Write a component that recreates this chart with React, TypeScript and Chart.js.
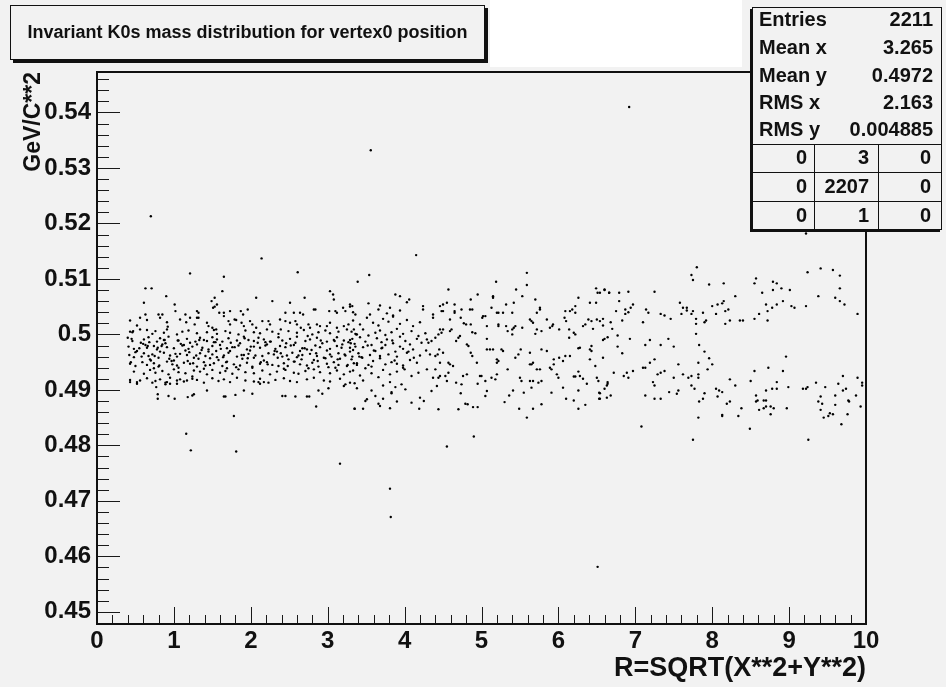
import React, { useEffect, useRef } from "react";
import { Chart, registerables } from "chart.js";

Chart.register(...registerables);

// ---------- axis / text data ----------
const X_MIN = 0;
const X_MAX = 10;
const Y_MIN = 0.4478;
const Y_MAX = 0.5473;
const X_TICKS = [0, 1, 2, 3, 4, 5, 6, 7, 8, 9, 10];
const Y_TICKS = [0.45, 0.46, 0.47, 0.48, 0.49, 0.5, 0.51, 0.52, 0.53, 0.54];
const TITLE = "Invariant K0s mass distribution for vertex0 position";
const X_TITLE = "R=SQRT(X**2+Y**2)";
const Y_TITLE = "GeV/C**2";
const STAT_LABELS = ["Entries", "Mean x", "Mean y", "RMS x", "RMS y"];
const STAT_VALUES = ["2211", "3.265", "0.4972", "2.163", "0.004885"];
const OVERFLOW_ROW1 = ["0", "3", "0"];
const OVERFLOW_ROW2 = ["0", "2207", "0"];
const OVERFLOW_ROW3 = ["0", "1", "0"];

// ---------- points: [R, mass] ----------
const outliers = [
  [6.92, .5410], [3.56, .5332], [0.70, .5213], [9.22, .5182],
  [1.16, .4821], [1.22, .4791], [1.81, .4789], [3.16, .4767], [3.81, .4722], [3.82, .4671],
  [4.90, .4816], [4.55, .4798], [6.51, .4581], [7.75, .4810], [9.25, .4810],
];

const innerUpper = [
  [2.14, .5137], [1.21, .5110], [1.65, .5104], [2.61, .5112], [.63, .5083], [.71, .5083], [1.63, .5078], [.90, .5069],
  [2.07, .5066], [2.70, .5066], [3.03, .5078], [3.07, .5072], [3.08, .5063], [.61, .5057], [1.53, .5066], [1.49, .5060],
  [1.56, .5054], [2.28, .5060], [2.51, .5057], [1.01, .5054], [1.02, .5042], [1.15, .5036], [1.30, .5042], [1.32, .5039],
  [1.30, .5030], [1.51, .5048], [1.53, .5050], [1.59, .5039], [1.65, .5039], [1.73, .5042], [1.87, .5042], [1.90, .5036],
  [1.96, .5045], [2.45, .5039], [2.56, .5039], [2.64, .5039], [2.68, .5036], [2.82, .5045], [2.84, .5045], [3.02, .5042],
  [3.10, .5042], [3.12, .5039], [3.20, .5048], [3.23, .5042], [3.29, .5054], [3.32, .5051], [3.36, .5036],
  [.43, .5025], [.56, .5030], [.63, .5036], [.65, .5026], [.52, .5016], [.56, .5009], [.47, .5006], [.43, .5005],
  [.80, .5036], [.82, .5030], [.85, .5036], [.91, .5022], [.92, .5014], [1.08, .5027], [1.16, .5022], [1.21, .5030],
  [1.32, .5030], [1.27, .5018], [1.43, .5021], [1.45, .5015], [1.50, .5012], [1.55, .5009], [1.65, .5033], [1.71, .5024],
  [1.73, .5018], [1.79, .5027], [1.81, .5026], [1.88, .5021], [1.91, .5015], [1.99, .5024], [2.02, .5018], [2.07, .5012],
  [2.15, .5024], [2.23, .5024], [2.25, .5018], [2.38, .5027], [2.39, .5009], [2.45, .5024], [2.51, .5021], [2.58, .5024],
  [2.60, .5018], [2.65, .5012], [2.75, .5018], [2.77, .5012], [2.86, .5018], [2.90, .5015], [2.99, .5015], [3.03, .5021],
  [3.12, .5012], [3.21, .5015], [3.27, .5018], [3.34, .5009], [3.37, .5000],
];

const innerCoreA = [
  [.46, .5004], [.65, .5008], [.72, .5001], [.76, .5006], [.87, .5003], [.91, .5009], [1.04, .5000], [1.11, .5005],
  [1.19, .5007], [1.30, .5002], [1.43, .5004], [1.52, .5008], [1.56, .5001], [1.67, .5006], [1.73, .5003], [1.84, .5000],
  [1.93, .5007], [2.04, .5004], [2.12, .5002], [2.21, .5009], [2.28, .5005], [2.36, .5001], [2.49, .5006], [2.60, .5003],
  [2.69, .5008], [2.80, .5000], [2.88, .5004], [2.97, .5007], [3.03, .5002], [3.14, .5005], [3.25, .5009], [3.36, .5001],
  [.40, .4994], [.46, .4988], [.61, .4991], [.67, .4995], [.78, .4987], [.82, .4993], [.87, .4990], [.93, .4996],
  [1.06, .4989], [1.17, .4992], [1.28, .4987], [1.34, .4994], [1.39, .4990], [1.43, .4988], [1.50, .4995], [1.56, .4991],
  [1.63, .4987], [1.71, .4993], [1.82, .4989], [1.91, .4996], [1.97, .4990], [2.04, .4988], [2.10, .4994], [2.17, .4991],
  [2.25, .4987], [2.36, .4995], [2.41, .4989], [2.51, .4992], [2.60, .4996], [2.71, .4988], [2.77, .4991], [2.86, .4994],
  [2.99, .4987], [3.08, .4990], [3.12, .4995], [3.21, .4989], [3.32, .4992],
];

const innerCoreB = [
  [.41, .4978], [.48, .4974], [.63, .4981], [.65, .4976], [.74, .4979], [.78, .4973], [.85, .4982], [.91, .4977],
  [1.00, .4975], [1.11, .4980], [1.19, .4974], [1.24, .4978], [1.30, .4982], [1.37, .4976], [1.45, .4973], [1.50, .4979],
  [1.60, .4981], [1.69, .4975], [1.76, .4977], [1.84, .4980], [1.95, .4973], [2.04, .4978], [2.12, .4976], [2.21, .4982],
  [2.32, .4974], [2.38, .4979], [2.45, .4977], [2.56, .4981], [2.67, .4975], [2.73, .4973], [2.84, .4980], [2.90, .4977],
  [3.03, .4974], [3.12, .4979], [3.19, .4982], [3.29, .4976], [3.36, .4978],
  [.42, .4963], [.48, .4959], [.61, .4966], [.67, .4961], [.72, .4964], [.80, .4958], [.87, .4967], [.95, .4962],
  [1.04, .4960], [1.08, .4965], [1.17, .4963], [1.26, .4958], [1.34, .4966], [1.41, .4961], [1.50, .4964], [1.56, .4959],
  [1.65, .4962], [1.71, .4967], [1.82, .4960], [1.91, .4963], [1.97, .4965], [2.04, .4958], [2.15, .4961], [2.23, .4966],
  [2.30, .4964], [2.41, .4960], [2.47, .4962], [2.54, .4967], [2.60, .4959], [2.67, .4963], [2.77, .4965], [2.86, .4961],
  [2.95, .4958], [3.03, .4964], [3.14, .4966], [3.23, .4962], [3.32, .4960],
  [.52, .4970], [.69, .4955], [.82, .4969], [1.00, .4953], [1.15, .4971], [1.32, .4956], [1.45, .4969], [1.58, .4954],
  [1.73, .4970], [1.89, .4956], [1.99, .4971], [2.17, .4953], [2.34, .4969], [2.49, .4955], [2.64, .4970], [2.82, .4954],
  [2.99, .4971], [3.16, .4956], [3.29, .4969],
  [.57, .4985], [.74, .4939], [.89, .4984], [1.06, .4940], [1.21, .4985], [1.39, .4938], [1.54, .4986], [1.69, .4939],
  [1.86, .4984], [2.02, .4940], [2.19, .4986], [2.43, .4938], [2.58, .4985], [2.75, .4939], [2.93, .4984], [3.10, .4940],
  [3.27, .4986],
];

const innerCoreC = [
  [.43, .4947], [.50, .4943], [.59, .4950], [.65, .4945], [.74, .4948], [.80, .4942], [.91, .4951], [.98, .4946],
  [1.04, .4944], [1.13, .4949], [1.21, .4947], [1.30, .4942], [1.39, .4950], [1.47, .4945], [1.52, .4948], [1.63, .4943],
  [1.69, .4951], [1.78, .4946], [1.86, .4944], [1.95, .4949], [2.02, .4942], [2.12, .4947], [2.21, .4950], [2.28, .4945],
  [2.36, .4943], [2.43, .4948], [2.56, .4951], [2.64, .4946], [2.73, .4944], [2.80, .4949], [2.88, .4942], [2.99, .4947],
  [3.08, .4950], [3.14, .4945], [3.25, .4943], [3.34, .4948],
  [.48, .4933], [.61, .4929], [.69, .4936], [.76, .4931], [.85, .4934], [.93, .4928], [1.00, .4937], [1.06, .4932],
  [1.15, .4930], [1.26, .4935], [1.34, .4933], [1.43, .4928], [1.50, .4936], [1.60, .4931], [1.67, .4934], [1.76, .4929],
  [1.84, .4937], [1.93, .4932], [2.04, .4930], [2.15, .4935], [2.25, .4928], [2.34, .4933], [2.45, .4936], [2.56, .4931],
  [2.62, .4929], [2.71, .4934], [2.82, .4937], [2.90, .4932], [3.03, .4930], [3.12, .4935], [3.21, .4928], [3.29, .4933],
  [.43, .4918], [.52, .4914], [.65, .4921], [.76, .4916], [.82, .4919], [.89, .4913], [.95, .4922], [1.04, .4917],
  [1.13, .4915], [1.24, .4920], [1.30, .4918], [1.39, .4913], [1.50, .4921], [1.58, .4916], [1.65, .4919], [1.73, .4914],
  [1.82, .4922], [1.93, .4917], [2.04, .4915], [2.12, .4920], [2.23, .4913], [2.32, .4918], [2.43, .4921], [2.51, .4916],
  [2.60, .4914], [2.73, .4919], [2.82, .4922], [2.95, .4917], [3.03, .4915], [3.16, .4920], [3.29, .4913],
];

const innerCoreD = [
  [.45, .4992], [.55, .4975], [.68, .4986], [.75, .4961], [.84, .4979], [.97, .4952], [1.09, .4983], [1.20, .4968],
  [1.33, .4990], [1.47, .4957], [1.61, .4974], [1.74, .4985], [1.88, .4963], [2.00, .4978], [2.13, .4950], [2.26, .4987],
  [2.39, .4966], [2.52, .4980], [2.66, .4955], [2.79, .4972], [2.91, .4989], [3.05, .4960], [3.18, .4976], [3.30, .4984],
  [3.45, .4958], [3.60, .4971], [3.75, .4981], [3.90, .4947], [4.05, .4969],
  [.50, .4968], [.60, .4983], [.70, .4953], [.79, .4976], [.88, .4990], [1.02, .4965], [1.13, .4981], [1.25, .4948],
  [1.36, .4972], [1.52, .4986], [1.64, .4959], [1.79, .4977], [1.92, .4993], [2.06, .4962], [2.19, .4980], [2.31, .4970],
  [2.46, .4984], [2.57, .4951], [2.70, .4975], [2.85, .4966], [2.97, .4957], [3.09, .4988], [3.22, .4964], [3.38, .4945],
  [3.52, .4980], [3.68, .4961], [3.84, .4989], [3.98, .4974], [4.12, .4958],
  [.44, .4950], [.58, .4960], [.66, .4979], [.81, .4944], [.94, .4956], [1.05, .4989], [1.18, .4952], [1.29, .4962],
  [1.41, .4944], [1.55, .4970], [1.68, .4950], [1.81, .4941], [1.96, .4957], [2.09, .4985], [2.22, .4946], [2.35, .4958],
  [2.48, .4943], [2.62, .4962], [2.74, .4997], [2.87, .4952], [3.01, .4941], [3.13, .4955], [3.26, .4945], [3.41, .4960],
  [3.57, .4942], [3.71, .4976], [3.87, .4953], [4.00, .4937],
];

const innerLower = [
  [.79, .4892], [.79, .4884], [.93, .4889], [1.01, .4884], [1.18, .4887], [1.24, .4890], [1.26, .4892], [1.43, .4899],
  [1.65, .4888], [1.67, .4888], [1.78, .4853], [1.80, .4891], [1.91, .4899], [2.02, .4893], [2.10, .4914], [2.12, .4911],
  [2.17, .4914], [2.41, .4889], [2.45, .4889], [2.58, .4888], [2.73, .4888], [2.76, .4888], [2.88, .4899], [2.93, .4893],
  [2.85, .4870], [3.01, .4903], [3.21, .4907], [3.23, .4910], [3.35, .4866], [.52, .4911], [.43, .4914], [.56, .4917],
  [.72, .4913], [.77, .4905], [.89, .4910], [.91, .4914], [.95, .4911], [1.04, .4911], [1.08, .4919], [1.17, .4917],
  [1.24, .4924],
];

const middleDense = [
  [3.29, .5050], [3.33, .5040], [3.53, .5056], [3.55, .5036], [3.66, .5045], [3.68, .5052], [3.77, .5038], [3.81, .5048],
  [3.85, .5034], [3.94, .5043], [4.03, .5058],
  [3.33, .5025], [3.42, .5018], [3.51, .5030], [3.59, .5021], [3.66, .5016], [3.72, .5028], [3.79, .5023], [3.85, .5032],
  [3.94, .5019], [4.03, .5026], [4.11, .5015], [4.20, .5022],
  [3.31, .5005], [3.38, .5000], [3.46, .5009], [3.53, .4998], [3.62, .5003], [3.68, .5007], [3.75, .4999], [3.83, .5004],
  [3.90, .5010], [3.98, .5001], [4.09, .5006], [4.18, .4997], [4.27, .5002],
  [3.29, .4990], [3.35, .4983], [3.42, .4995], [3.49, .4987], [3.57, .4981], [3.64, .4993], [3.70, .4986], [3.77, .4991],
  [3.85, .4984], [3.94, .4996], [4.01, .4988], [4.07, .4982], [4.16, .4992], [4.22, .4985],
  [3.33, .4972], [3.40, .4966], [3.46, .4977], [3.55, .4963], [3.62, .4970], [3.70, .4975], [3.79, .4964], [3.88, .4969],
  [3.94, .4978], [4.03, .4967], [4.11, .4973], [4.20, .4962], [4.28, .4971],
  [3.31, .4955], [3.38, .4948], [3.44, .4959], [3.53, .4945], [3.59, .4952], [3.68, .4957], [3.75, .4946], [3.83, .4950],
  [3.90, .4960], [3.98, .4944], [4.07, .4954], [4.16, .4949],
  [3.33, .4935], [3.42, .4926], [3.49, .4939], [3.57, .4930], [3.66, .4923], [3.72, .4936], [3.81, .4928], [3.90, .4933],
  [3.98, .4940], [4.09, .4925], [4.18, .4931],
  [3.35, .4912], [3.38, .4903], [3.46, .4917], [3.57, .4899], [3.72, .4908], [3.81, .4914], [3.83, .4896], [3.88, .4905],
  [3.96, .4910], [4.01, .4901],
  [3.49, .4880], [3.62, .4889], [3.68, .4871], [3.72, .4884], [3.81, .4867], [4.09, .4877], [4.20, .4886], [3.35, .4866],
  [3.46, .4866], [3.51, .4883], [3.66, .4875], [3.90, .4879], [3.83, .4894],
];

const middleUpper = [
  [4.15, .5143], [3.54, .5107], [3.39, .5095], [3.88, .5072], [3.94, .5069], [4.06, .5063], [4.57, .5081], [4.55, .5057],
  [4.50, .5054], [4.46, .5051], [4.65, .5054], [4.65, .5042], [4.65, .5039], [4.59, .5027], [4.50, .5042], [4.48, .5042],
  [4.37, .5036], [4.37, .5030], [4.24, .5051], [4.24, .5045], [4.95, .5072], [4.86, .5063], [5.19, .5095], [5.15, .5069],
  [5.15, .5066], [5.13, .5048], [5.20, .5039], [5.22, .5039], [5.28, .5039], [5.05, .5033], [5.02, .5033], [5.01, .5030],
  [5.07, .5015], [5.22, .5018], [5.22, .5015], [4.74, .5045], [4.85, .5045], [4.88, .5045], [4.73, .5030], [4.80, .5018],
  [4.77, .5020], [4.86, .5018], [4.88, .5004], [4.92, .5002], [5.07, .4992], [5.32, .5054], [5.42, .5057], [5.45, .5081],
  [5.53, .5069], [5.59, .5089], [5.59, .5111], [5.70, .5063], [5.76, .5048], [5.76, .5045], [5.63, .5027], [5.65, .5024],
  [5.67, .5021], [5.72, .5039], [5.40, .5039], [5.32, .5015], [5.34, .5006], [5.40, .5009], [5.42, .5012], [5.44, .5015],
  [5.40, .5000], [5.53, .5012], [5.72, .5009], [5.70, .5001], [5.78, .5006], [5.85, .5027], [5.89, .5012], [5.92, .5015],
  [5.93, .5018], [6.01, .5009], [6.09, .5042], [6.08, .5030], [6.10, .5024], [6.15, .5042], [6.18, .5045], [6.22, .5051],
  [6.22, .5039], [6.26, .5066], [6.14, .5009], [6.20, .5003], [6.22, .5000], [6.32, .5015], [6.35, .5018], [6.41, .5057],
  [6.49, .5057], [6.49, .5083], [6.51, .5075], [6.54, .5075], [6.60, .5080], [6.66, .5075], [6.39, .5027], [6.43, .5024],
  [6.50, .5027], [6.54, .5024], [6.45, .5010],
];

const middleLower = [
  [4.29, .4991], [4.31, .4985], [4.35, .4988], [4.40, .4994], [4.44, .5000], [4.48, .5003], [4.46, .5009], [4.50, .5009],
  [4.59, .5006], [4.61, .5009], [4.67, .4988], [4.70, .4994], [4.72, .4997], [4.81, .4982], [4.83, .4979], [4.86, .4967],
  [4.88, .4961], [4.45, .4973], [4.50, .4967], [4.33, .4964], [4.40, .4961], [4.43, .4964], [4.57, .4949], [4.59, .4946],
  [4.63, .4943], [4.46, .4949], [4.40, .4937], [4.29, .4937], [4.37, .4922], [4.44, .4922], [4.46, .4925], [4.53, .4925],
  [4.57, .4931], [4.55, .4916], [4.67, .4913], [4.74, .4910], [4.42, .4907], [4.35, .4898], [4.25, .4880], [4.19, .4866],
  [4.44, .4865], [4.70, .4865], [4.73, .4894], [4.79, .4875], [4.82, .4874], [4.89, .4869], [4.95, .4869], [4.76, .4925],
  [4.81, .4928], [4.94, .4949], [4.98, .4925], [5.00, .4925], [4.95, .4911], [5.05, .4916], [5.07, .4898], [5.05, .4889],
  [5.07, .4973], [5.11, .4973], [5.15, .4973], [5.13, .4922], [5.18, .4919], [5.20, .4928], [5.20, .4955], [5.20, .4949],
  [5.22, .4952], [5.26, .4973], [5.28, .4970], [5.34, .4937], [5.30, .4878], [5.36, .4890], [5.41, .4899], [5.44, .4958],
  [5.48, .4964], [5.51, .4973], [5.50, .4922], [5.52, .4916], [5.55, .4895], [5.49, .4866], [5.59, .4850], [5.63, .4967],
  [5.63, .4946], [5.65, .4946], [5.67, .4949], [5.63, .4916], [5.67, .4916], [5.65, .4904], [5.67, .4866], [5.74, .4913],
  [5.78, .4916], [5.72, .4937], [5.76, .4937], [5.78, .4973], [5.78, .4874], [5.85, .4970], [5.89, .4940], [5.91, .4937],
  [5.94, .4946], [5.94, .4955], [5.98, .4928], [6.00, .4922], [5.91, .4895], [6.06, .4904], [6.10, .4884], [6.01, .4958],
  [6.06, .4952], [6.09, .4961], [6.14, .4994], [6.15, .4961], [6.20, .4924], [6.22, .4924], [6.26, .4975], [6.28, .4976],
  [6.26, .4933], [6.28, .4925], [6.26, .4899], [6.26, .4866], [6.20, .4881], [6.32, .4920], [6.37, .4911], [6.35, .4873],
  [6.41, .4973], [6.43, .4979], [6.43, .4970], [6.41, .4955], [6.48, .4943], [6.50, .4922], [6.52, .4916], [6.53, .4895],
  [6.53, .4884], [6.63, .4908], [6.63, .4886],
];

const outerUpper = [
  [7.80, .5121], [7.73, .5107], [7.75, .5098], [7.96, .5090], [8.15, .5092], [6.60, .5081], [6.66, .5075], [6.79, .5075],
  [6.91, .5077], [7.25, .5077], [8.30, .5069], [8.55, .5092], [8.57, .5101], [8.65, .5075], [8.79, .5095], [8.84, .5092],
  [8.90, .5083], [9.01, .5080], [8.79, .5080], [9.24, .5112], [9.41, .5119], [9.57, .5116], [9.66, .5106], [9.66, .5083],
  [9.38, .5069], [9.60, .5066], [9.66, .5060], [9.72, .5054], [6.79, .5060], [6.97, .5054], [6.94, .5048], [6.91, .5040],
  [6.87, .5037], [6.87, .5045], [6.75, .5042], [6.83, .5025], [6.68, .5022], [6.58, .5028], [6.58, .5016], [7.14, .5045],
  [7.17, .5039], [7.10, .5022], [7.33, .5037], [7.38, .5034], [7.46, .5028], [7.58, .5057], [7.62, .5048], [7.67, .5048],
  [7.67, .5043], [7.60, .5037], [7.75, .5042], [7.73, .5037], [7.79, .5028], [7.79, .5019], [7.88, .5039], [7.90, .5022],
  [7.92, .5025], [8.00, .5051], [8.07, .5054], [8.13, .5056], [8.15, .5060], [8.05, .5037], [8.17, .5042], [8.21, .5045],
  [8.23, .5025], [8.17, .5019], [8.36, .5025], [8.40, .5025], [8.55, .5028], [8.61, .5037], [8.72, .5025], [8.72, .5042],
  [8.70, .5054], [8.78, .5048], [8.84, .5054], [8.92, .5060], [9.03, .5051], [9.07, .5048], [9.22, .5051], [9.89, .5037],
  [7.79, .5001], [6.58, .4990], [6.60, .4992], [6.64, .4995], [6.70, .5010], [6.77, .4998], [6.93, .4992],
];

const outerLower = [
  [6.77, .4978], [6.83, .4966], [6.58, .4958], [7.13, .4981], [7.19, .4990], [7.33, .4981], [7.43, .4992], [7.50, .4978],
  [7.83, .4981], [7.90, .4969], [7.96, .4957], [8.00, .4946], [7.82, .4949], [7.94, .4937], [7.25, .4955], [7.19, .4949],
  [7.10, .4940], [7.13, .4940], [6.97, .4934], [6.89, .4931], [6.85, .4925], [6.91, .4922], [6.72, .4931], [6.64, .4914],
  [6.64, .4911], [6.60, .4902], [6.68, .4890], [6.54, .4894], [6.54, .4884], [7.38, .4934], [7.33, .4931], [7.29, .4928],
  [7.56, .4946], [7.50, .4922], [7.62, .4928], [7.69, .4922], [7.73, .4925], [7.82, .4928], [7.82, .4922], [7.23, .4914],
  [7.25, .4908], [7.13, .4890], [7.25, .4884], [7.33, .4884], [7.44, .4896], [7.56, .4899], [7.54, .4893], [7.73, .4908],
  [7.77, .4902], [7.90, .4894], [7.88, .4884], [7.83, .4879], [8.05, .4902], [8.09, .4899], [8.13, .4896], [8.07, .4888],
  [8.23, .4919], [8.30, .4908], [8.23, .4879], [8.19, .4875], [8.13, .4855], [8.13, .4853], [8.34, .4853], [8.38, .4867],
  [7.82, .4850], [7.08, .4834], [8.49, .4830], [8.50, .4916], [8.55, .4934], [8.73, .4940], [8.96, .4960], [8.92, .4934],
  [8.84, .4914], [8.99, .4905], [8.78, .4902], [8.84, .4902], [8.70, .4899], [8.57, .4890], [8.59, .4881], [8.57, .4879],
  [8.67, .4881], [8.70, .4881], [8.61, .4864], [8.67, .4867], [8.70, .4870], [8.76, .4870], [8.80, .4867], [8.76, .4856],
  [8.97, .4867], [9.18, .4902], [9.22, .4902], [9.24, .4905], [9.35, .4913], [9.41, .4888], [9.43, .4875], [9.38, .4879],
  [9.47, .4905], [9.41, .4864], [9.45, .4850], [9.51, .4853], [9.53, .4858], [9.57, .4856], [9.60, .4890], [9.60, .4873],
  [9.64, .4911], [9.70, .4925], [9.70, .4899], [9.74, .4902], [9.77, .4881], [9.78, .4879], [9.76, .4856], [9.68, .4838],
  [9.89, .4922], [9.87, .4890], [9.95, .4913], [9.95, .4908], [9.93, .4870],
];

const ALL_POINTS = [
  ...outliers, ...innerUpper, ...innerCoreA, ...innerCoreB, ...innerCoreC, ...innerCoreD, ...innerLower,
  ...middleDense, ...middleUpper, ...middleLower, ...outerUpper, ...outerLower,
];

// ---------- styling constants ----------
const BG = "#f2f2f2";
const FONT = "'Liberation Sans', Arial, Helvetica, sans-serif";

function yLabel(v: number): string {
  const s = Number(v).toFixed(2);
  return s.endsWith("0") ? s.slice(0, -1) : s;
}

const rootPlugin = {
  id: "rootStyle",
  beforeDraw(chart: any) {
    const { ctx, width, height } = chart;
    ctx.save();
    ctx.fillStyle = BG;
    ctx.fillRect(0, 0, width, height);
    ctx.fillStyle = "#ffffff";
    ctx.fillRect(490, 0, 252, 67);
    ctx.restore();
  },
  afterDraw(chart: any) {
    const { ctx, chartArea: a } = chart;
    const xs = chart.scales.x;
    const ys = chart.scales.y;
    ctx.save();

    // ticks (inward, ROOT style)
    ctx.strokeStyle = "#1a1a1a";
    ctx.lineWidth = 1;
    ctx.beginPath();
    for (let i = 0; i <= 50; i++) {
      const v = i * 0.2;
      const px = Math.round(xs.getPixelForValue(v)) + 0.5;
      const major = i % 5 === 0;
      ctx.moveTo(px, a.bottom);
      ctx.lineTo(px, a.bottom - (major ? 17 : 9));
    }
    const i0 = Math.ceil(Y_MIN / 0.002 - 1e-6);
    const i1 = Math.floor(Y_MAX / 0.002 + 1e-6);
    for (let i = i0; i <= i1; i++) {
      const v = i * 0.002;
      const py = Math.round(ys.getPixelForValue(v)) + 0.5;
      const major = i % 5 === 0;
      ctx.moveTo(a.left, py);
      ctx.lineTo(a.left + (major ? 23 : 12), py);
    }
    ctx.stroke();

    // frame
    ctx.strokeStyle = "#111";
    ctx.lineWidth = 2;
    ctx.strokeRect(a.left, a.top, a.right - a.left, a.bottom - a.top);

    // title box
    const tx = 10, ty = 5, tw = 475, th = 55;
    ctx.fillStyle = "#111";
    ctx.fillRect(tx + 3, ty + 3, tw, th);
    ctx.fillStyle = BG;
    ctx.fillRect(tx, ty, tw, th);
    ctx.lineWidth = 1;
    ctx.strokeStyle = "#111";
    ctx.strokeRect(tx + 0.5, ty + 0.5, tw - 1, th - 1);
    ctx.fillStyle = "#111";
    ctx.font = `bold 18px ${FONT}`;
    ctx.textAlign = "center";
    ctx.textBaseline = "middle";
    ctx.fillText(TITLE, tx + tw / 2, ty + th / 2 + 1);

    // stats box
    const sx = 752, sy = 7, sw = 190, sh = 223;
    ctx.fillStyle = "#111";
    ctx.fillRect(sx - 2, sy + 2, sw, sh);
    ctx.fillStyle = BG;
    ctx.fillRect(sx, sy, sw, sh);
    ctx.strokeStyle = "#111";
    ctx.lineWidth = 1;
    ctx.strokeRect(sx + 0.5, sy + 0.5, sw - 1, sh - 1);
    ctx.beginPath();
    [144, 172, 201].forEach((yy) => {
      ctx.moveTo(sx, yy + 0.5);
      ctx.lineTo(sx + sw, yy + 0.5);
    });
    [814, 878].forEach((xx) => {
      ctx.moveTo(xx + 0.5, 144);
      ctx.lineTo(xx + 0.5, sy + sh);
    });
    ctx.stroke();

    ctx.fillStyle = "#111";
    ctx.font = `bold 20px ${FONT}`;
    ctx.textBaseline = "middle";
    const rowY = [20, 48, 76, 103, 130];
    STAT_LABELS.forEach((lab, i) => {
      ctx.textAlign = "left";
      ctx.fillText(lab, 759, rowY[i]);
      ctx.textAlign = "right";
      ctx.fillText(STAT_VALUES[i], 933, rowY[i]);
    });
    const colX = [807, 869, 931];
    const tableRows = [OVERFLOW_ROW1, OVERFLOW_ROW2, OVERFLOW_ROW3];
    const tableY = [158, 187, 216];
    ctx.textAlign = "right";
    tableRows.forEach((row, r) => {
      row.forEach((cell, c) => ctx.fillText(cell, colX[c], tableY[r]));
    });

    ctx.restore();
  },
};

export default function App() {
  const ref = useRef<HTMLCanvasElement | null>(null);

  useEffect(() => {
    if (!ref.current) return;
    const tickFont = { family: FONT, size: 24, weight: "bold" as const };
    const chart = new Chart(ref.current, {
      type: "scatter",
      data: {
        datasets: [
          {
            data: ALL_POINTS.map(([x, y]) => ({ x, y })),
            pointRadius: 1.2,
            pointHoverRadius: 0,
            pointBorderWidth: 0,
            pointBackgroundColor: "#000",
            backgroundColor: "#000",
            borderWidth: 0,
          },
        ],
      },
      options: {
        animation: false,
        responsive: false,
        maintainAspectRatio: false,
        events: [],
        layout: { padding: { top: 72, right: 80, left: 0, bottom: 0 } },
        plugins: {
          legend: { display: false },
          tooltip: { enabled: false },
          title: { display: false },
        },
        scales: {
          x: {
            type: "linear",
            min: X_MIN,
            max: X_MAX,
            afterFit: (s: any) => {
              s.height = 63;
            },
            afterBuildTicks: (s: any) => {
              s.ticks = X_TICKS.map((value) => ({ value }));
            },
            grid: { display: false, drawTicks: false },
            border: { display: false },
            ticks: {
              font: tickFont,
              color: "#111",
              padding: 3,
              maxRotation: 0,
              autoSkip: false,
              callback: (v: any) => String(v),
            },
            title: {
              display: true,
              text: X_TITLE,
              align: "end",
              color: "#111",
              font: { family: FONT, size: 27, weight: "bold" },
              padding: { top: 0, bottom: 2 },
            },
          },
          y: {
            type: "linear",
            min: Y_MIN,
            max: Y_MAX,
            afterFit: (s: any) => {
              s.width = 97;
            },
            afterBuildTicks: (s: any) => {
              s.ticks = Y_TICKS.map((value) => ({ value }));
            },
            grid: { display: false, drawTicks: false },
            border: { display: false },
            ticks: {
              font: tickFont,
              color: "#111",
              padding: 6,
              autoSkip: false,
              callback: (v: any) => yLabel(v),
            },
            title: {
              display: true,
              text: Y_TITLE,
              align: "end",
              color: "#111",
              font: { family: FONT, size: 23, weight: "bold" },
              padding: { top: 20, bottom: 0 },
            },
          },
        },
      },
      plugins: [rootPlugin],
    });
    return () => chart.destroy();
  }, []);

  return (
    <div style={{ position: "absolute", left: 0, top: 0, width: 946, height: 687, background: BG }}>
      <canvas ref={ref} width={946} height={687} style={{ width: 946, height: 687, display: "block" }} />
    </div>
  );
}
